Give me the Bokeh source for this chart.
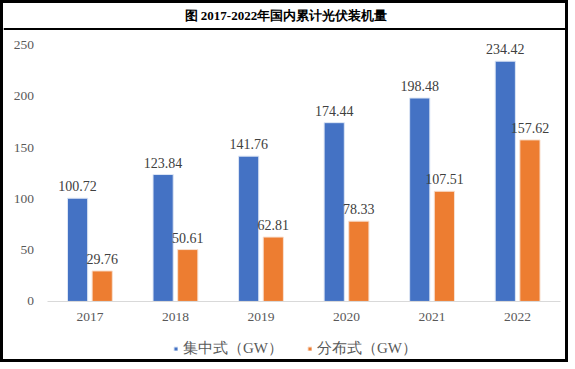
from bokeh.plotting import figure
from bokeh.models import ColumnDataSource, Range1d, Legend, LegendItem, FixedTicker, Span, Label
from bokeh.transform import dodge
from bokeh.core.properties import value
from bokeh.embed import file_html
from bokeh.resources import INLINE

years = ["2017", "2018", "2019", "2020", "2021", "2022"]
centralized = [100.72, 123.84, 141.76, 174.44, 198.48, 234.42]
distributed = [29.76, 50.61, 62.81, 78.33, 107.51, 157.62]
y_ticks = [0, 50, 100, 150, 200, 250]
title_text = "图  2017-2022年国内累计光伏装机量"
series_names = ["集中式（GW）", "分布式（GW）"]

SERIF = "Liberation Serif"
BLUE = "#4472C4"
ORANGE = "#ED7D31"

idx = list(range(len(years)))
src = ColumnDataSource(dict(
    idx=idx,
    c=centralized,
    d=distributed,
    c_lab=[f"{v:.2f}" for v in centralized],
    d_lab=[f"{v:.2f}" for v in distributed],
))

X0, X1 = -1.010, 5.630
Y0, Y1 = -62.5, 290.7

p = figure(width=568, height=362, x_range=Range1d(X0, X1), y_range=Range1d(Y0, Y1),
           output_backend="svg", toolbar_location=None, min_border=0)
p.outline_line_color = None
p.grid.visible = False
p.styles = {"border": "3px solid black"}

W = 0.236
OFF = 0.144
rc = p.vbar(x=dodge("idx", -OFF), top="c", width=W, source=src,
            fill_color=BLUE, line_color="#DDE6F5", line_width=1)
rd = p.vbar(x=dodge("idx", OFF), top="d", width=W, source=src,
            fill_color=ORANGE, line_color="#F8E0D0", line_width=1)

for col, lab, off in (("c", "c_lab", -OFF), ("d", "d_lab", OFF)):
    p.text(x=dodge("idx", off), y=col, text=lab, source=src,
           text_align="center", text_baseline="bottom", y_offset=-7,
           text_font=value(SERIF), text_font_size="14px", text_color="#404040")

# y axis
p.yaxis.fixed_location = -0.561
p.yaxis.ticker = FixedTicker(ticks=y_ticks)
p.yaxis.axis_line_color = None
p.yaxis.major_tick_line_color = None
p.yaxis.minor_tick_line_color = None
p.yaxis.major_tick_out = 0
p.yaxis.minor_tick_out = 0
p.yaxis.major_label_standoff = 8
p.yaxis.major_label_text_font = SERIF
p.yaxis.major_label_text_font_size = "13.5px"
p.yaxis.major_label_text_color = "#595959"

# x axis
p.xaxis.fixed_location = 0
p.xaxis.bounds = (-0.5, len(years) - 0.5)
p.xaxis.ticker = FixedTicker(ticks=idx)
p.xaxis.major_label_overrides = {i: y for i, y in zip(idx, years)}
p.xaxis.axis_line_color = "#D9D9D9"
p.xaxis.axis_line_width = 1
p.xaxis.major_tick_line_color = None
p.xaxis.minor_tick_line_color = None
p.xaxis.major_tick_out = 0
p.xaxis.minor_tick_out = 0
p.xaxis.major_label_standoff = 12
p.xaxis.major_label_text_font = SERIF
p.xaxis.major_label_text_font_size = "13.5px"
p.xaxis.major_label_text_color = "#595959"

# title and separator
p.add_layout(Label(x=(X0 + X1) / 2, y=279.3, text=title_text, text_align="center",
                   text_baseline="middle", text_font=SERIF, text_font_style="bold",
                   text_font_size="13px", text_color="#000000"))
p.add_layout(Span(location=265.9, dimension="width", line_color="black", line_width=2))

legend = Legend(items=[LegendItem(label=series_names[0], renderers=[rc]),
                       LegendItem(label=series_names[1], renderers=[rd])],
                orientation="horizontal", location=(170, 7),
                glyph_width=5, glyph_height=5, label_standoff=5, spacing=24,
                label_text_font=SERIF, label_text_font_size="15px",
                label_text_color="#595959", border_line_color=None,
                background_fill_alpha=0, margin=0, padding=2)
p.add_layout(legend)

open("out.html", "w").write(file_html(p, INLINE))
